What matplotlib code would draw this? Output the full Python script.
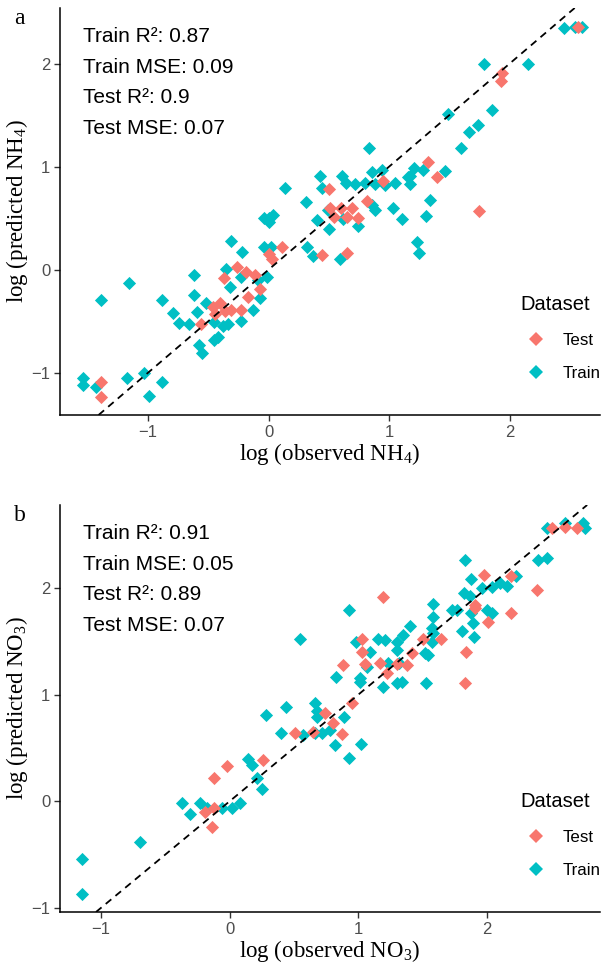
import matplotlib
matplotlib.use("Agg")
import matplotlib.pyplot as plt
from matplotlib.lines import Line2D

plt.rcParams['mathtext.fontset'] = 'custom'
plt.rcParams['mathtext.rm'] = 'Liberation Serif'
plt.rcParams['mathtext.it'] = 'Liberation Serif:italic'
plt.rcParams['font.family'] = ['Liberation Sans', 'DejaVu Sans']

# ---------------- data: panel a (NH4) ----------------
nh4_train_obs = [2.45, 2.54, 2.60, 1.79, 2.15, 1.49, 1.85, 1.74, 1.66, 0.83, 1.60, 1.46, 1.21, 1.28,
                 1.16, 1.17, 0.43, 0.61, 0.86, 0.94, 1.17, 0.14, 0.44, 0.64, 0.72, 0.80, 0.88, 0.97,
                 1.05, 0.31, 1.34, 1.03, 1.11, 1.31, 1.23, 1.25, 0.00, 0.04, -0.04, 0.00, 0.49, 0.88,
                 0.86, 0.40, 0.50, 0.74, 0.62, -0.31, -0.04, 0.02, 0.32, -0.22, 0.37, 0.59, -0.62,
                 -0.35, -0.23, -1.16, -1.39, -0.88, -0.62, -0.32, -0.09, -0.01, -0.07, -0.79, -0.59,
                 -0.52, -0.13, -0.74, -0.66, -0.45, -0.38, -0.34, -0.42, -0.23, -0.58, -0.55, -0.45,
                 -1.54, -1.54, -1.43, -1.17, -1.03, -0.88, -0.99]
nh4_train_pred = [2.35, 2.36, 2.36, 2.00, 2.00, 1.51, 1.55, 1.40, 1.34, 1.18, 1.18, 0.96, 0.99, 0.97,
                  0.90, 0.83, 0.91, 0.91, 0.95, 0.97, 0.91, 0.79, 0.79, 0.84, 0.83, 0.84, 0.83, 0.82,
                  0.84, 0.66, 0.68, 0.60, 0.49, 0.52, 0.27, 0.16, 0.50, 0.53, 0.50, 0.46, 0.58, 0.58,
                  0.63, 0.48, 0.40, 0.42, 0.49, 0.28, 0.22, 0.22, 0.22, 0.17, 0.13, 0.10, -0.05,
                  0.01, -0.07, -0.13, -0.29, -0.29, -0.25, -0.17, -0.10, -0.07, -0.27, -0.42, -0.41,
                  -0.32, -0.39, -0.52, -0.53, -0.51, -0.55, -0.53, -0.65, -0.50, -0.73, -0.81, -0.68,
                  -1.05, -1.12, -1.14, -1.05, -1.00, -1.09, -1.23]
nh4_test_obs = [2.57, 1.94, 1.93, 1.32, 1.40, 0.50, 0.95, 0.82, 0.51, 0.60, 0.69, 0.54, 0.65, 0.74,
                1.75, 0.44, 0.65, 0.11, 0.00, 0.03, -0.26, -0.19, -0.37, -0.11, -0.07, -0.17, -0.46,
                -0.40, -0.36, -0.44, -0.31, -0.23, -0.56, -1.39, -1.39]
nh4_test_pred = [2.36, 1.91, 1.83, 1.05, 0.90, 0.78, 0.86, 0.67, 0.60, 0.60, 0.60, 0.51, 0.51, 0.50,
                 0.57, 0.14, 0.16, 0.22, 0.15, 0.10, 0.03, -0.02, -0.08, -0.05, -0.19, -0.26, -0.36,
                 -0.32, -0.40, -0.43, -0.39, -0.39, -0.53, -1.09, -1.24]

# ---------------- data: panel b (NO3) ----------------
no3_train_obs = [2.47, 2.61, 2.75, 2.76, 2.40, 2.47, 1.83, 1.88, 2.23, 2.10, 2.16, 2.04, 1.96, 1.82,
                 1.87, 0.93, 1.58, 1.73, 1.77, 1.88, 2.00, 2.04, 1.58, 1.89, 1.81, 1.90, 1.40, 1.57,
                 0.55, 0.98, 1.15, 1.21, 1.30, 1.35, 1.58, 1.57, 1.09, 1.30, 1.52, 1.54, 1.07, 1.23,
                 1.32, 0.83, 1.01, 1.01, 1.19, 1.30, 1.34, 1.53, 0.66, 0.68, 0.68, 0.89, 0.44, 0.28,
                 0.40, 0.57, 0.66, 0.72, 0.78, 0.82, 1.02, 0.93, 0.14, 0.17, 0.21, 0.25, -0.37, -0.31,
                 -0.23, -0.18, -0.06, 0.02, 0.08, -0.70, -1.15, -1.15]
no3_train_pred = [2.56, 2.61, 2.61, 2.56, 2.26, 2.28, 2.26, 2.09, 2.11, 2.05, 2.02, 2.01, 2.00, 1.95,
                  1.93, 1.79, 1.85, 1.79, 1.79, 1.77, 1.79, 1.77, 1.73, 1.67, 1.60, 1.54, 1.64, 1.63,
                  1.52, 1.49, 1.52, 1.51, 1.49, 1.56, 1.58, 1.49, 1.40, 1.42, 1.39, 1.37, 1.26, 1.30,
                  1.30, 1.17, 1.16, 1.12, 1.07, 1.11, 1.12, 1.11, 0.92, 0.85, 0.79, 0.79, 0.88, 0.81,
                  0.64, 0.62, 0.64, 0.64, 0.67, 0.53, 0.54, 0.41, 0.40, 0.34, 0.22, 0.11, -0.02, -0.12,
                  -0.02, -0.06, -0.06, -0.06, -0.02, -0.38, -0.54, -0.87]
no3_test_obs = [2.51, 2.61, 2.70, 1.98, 2.19, 2.39, 1.19, 1.91, 1.91, 2.19, 2.01, 1.03, 1.64, 1.50,
                1.03, 1.42, 1.84, 0.88, 1.05, 1.17, 1.22, 1.30, 1.38, 1.83, 0.95, 0.74, 0.80, 0.87,
                0.51, 0.65, 0.26, -0.02, -0.12, -0.19, -0.12, -0.14]
no3_test_pred = [2.56, 2.57, 2.56, 2.12, 2.11, 1.98, 1.92, 1.84, 1.81, 1.77, 1.68, 1.52, 1.52, 1.52,
                 1.40, 1.39, 1.40, 1.28, 1.29, 1.30, 1.20, 1.29, 1.28, 1.11, 0.92, 0.83, 0.73, 0.63,
                 0.64, 0.65, 0.39, 0.33, 0.22, -0.10, -0.06, -0.24]

ticks = [-1, 0, 1, 2]
stats_a = ["Train R²: 0.87", "Train MSE: 0.09", "Test R²: 0.9", "Test MSE: 0.07"]
stats_b = ["Train R²: 0.91", "Train MSE: 0.05", "Test R²: 0.89", "Test MSE: 0.07"]
groups = ["Test", "Train"]
colors = {"Test": "#F8766D", "Train": "#00BFC4"}

W, H = 604, 964
fig = plt.figure(figsize=(W / 100, H / 100), dpi=100)


def make_panel(rect, train_x, train_y, test_x, test_y, xlim, ylim, stats, xlabel, ylabel, letter, leg_anchor):
    ax = fig.add_axes(rect)
    ax.scatter(train_x, train_y, marker='D', s=45, color=colors["Train"], linewidths=0, zorder=2)
    ax.scatter(test_x, test_y, marker='D', s=45, color=colors["Test"], linewidths=0, zorder=3)
    ax.axline((0, 0), slope=1, color='black', lw=1.3, linestyle=(0, (4, 3)), zorder=4)
    ax.set_xlim(*xlim)
    ax.set_ylim(*ylim)
    ax.set_xticks(ticks)
    ax.set_yticks(ticks)
    for s in ['top', 'right']:
        ax.spines[s].set_visible(False)
    for s in ['left', 'bottom']:
        ax.spines[s].set_linewidth(1.1)
        ax.spines[s].set_color('black')
    ax.tick_params(direction='out', length=4, width=1, color='#333333', labelsize=12,
                   labelcolor='#4D4D4D', pad=3)
    ax.set_xlabel(xlabel, fontsize=16.5, family='Liberation Serif', labelpad=1)
    ax.set_ylabel(ylabel, fontsize=16.5, family='Liberation Serif', labelpad=1)
    ys = [0.931, 0.855, 0.779, 0.703]
    for t, yy in zip(stats, ys):
        ax.text(0.043, yy, t, transform=ax.transAxes, fontsize=15, va='center', ha='left', color='black')
    handles = [Line2D([], [], marker='D', linestyle='none', markersize=6.7, color=colors[g],
                      markeredgewidth=0, label=g) for g in groups]
    ax.legend(handles=handles, title='Dataset', loc='upper left', bbox_to_anchor=leg_anchor,
              frameon=False, fontsize=12.2, title_fontsize=14.5, alignment='left',
              borderpad=0, borderaxespad=0, handlelength=1.9, handletextpad=0.6,
              labelspacing=1.1)
    fig.text(rect[0] - 46 / W, rect[1] + rect[3] + 0.0, letter, fontsize=17, family='Liberation Serif',
             ha='left', va='top')
    return ax


make_panel([60 / W, 1 - 415 / H, 540 / W, 407 / H], nh4_train_obs, nh4_train_pred, nh4_test_obs,
           nh4_test_pred, (-1.73, 2.75), (-1.41, 2.54), stats_a,
           r'log (observed NH$_\mathrm{4}$)', r'log (predicted NH$_\mathrm{4}$)', 'a', (0.852, 0.295))
make_panel([60 / W, 1 - 912 / H, 540 / W, 407 / H], no3_train_obs, no3_train_pred, no3_test_obs,
           no3_test_pred, (-1.32, 2.88), (-1.04, 2.78), stats_b,
           r'log (observed NO$_\mathrm{3}$)', r'log (predicted NO$_\mathrm{3}$)', 'b', (0.852, 0.295))

fig.savefig('out.png', dpi=100)
